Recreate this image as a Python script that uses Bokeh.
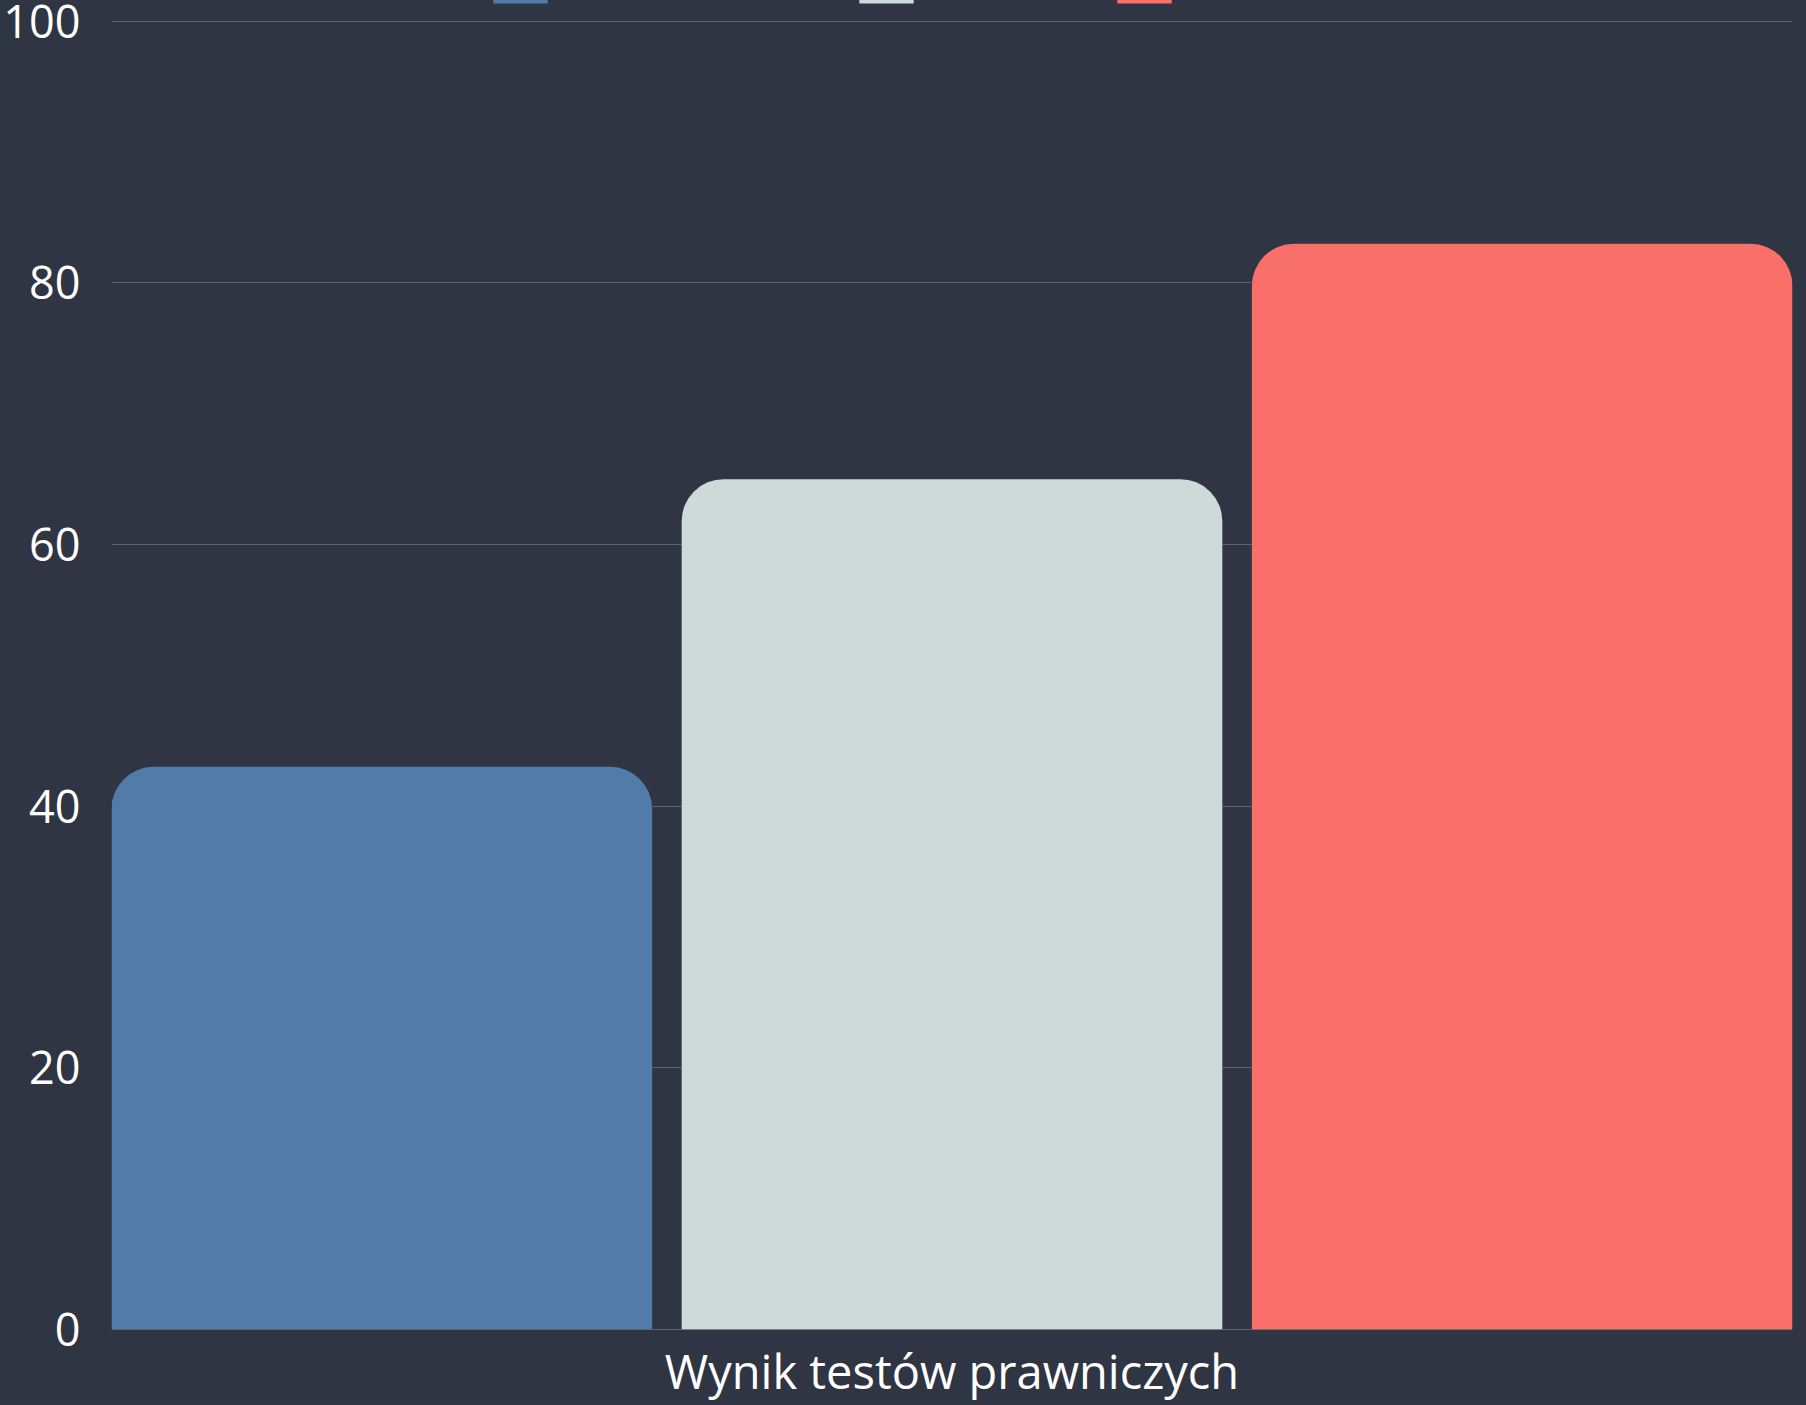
from bokeh.plotting import figure
from bokeh.models import ColumnDataSource, FactorRange, Range1d, FixedTicker, Legend, LegendItem
from bokeh.transform import dodge
from bokeh.embed import file_html
from bokeh.resources import INLINE

# ---- data ----
categories = ["Wynik testów prawniczych"]
values_a = [43]
values_b = [65]
values_c = [83]
y_ticks = [0, 20, 40, 60, 80, 100]

colors = ["#527BAA", "#CEDADA", "#F96F69"]
BG = "#2F3542"
FONT = "Open Sans"

src = ColumnDataSource(dict(cat=categories, a=values_a, b=values_b, c=values_c))

# y range reaches a little beyond 0..100 so that the frame can hold the
# legend swatches at the very top and the 0 / 100 grid lines are drawn
p = figure(
    x_range=FactorRange(factors=categories, range_padding=0),
    y_range=Range1d(-0.1, 101.6),
    width=1806, height=1405,
    output_backend="svg", toolbar_location=None,
    min_border_left=110, min_border_right=14, min_border_top=0, min_border_bottom=74,
)

# background painted by the host element (avoids seams around the frame)
p.styles = {"background-color": BG}
p.background_fill_color = None
p.border_fill_color = None
p.outline_line_color = None

bar_w = 0.3216
offs = [-0.3392, 0.0, 0.3392]
renderers = []
for col, off, c in zip(["a", "b", "c"], offs, colors):
    r = p.vbar(x=dodge("cat", off, range=p.x_range), top=col, bottom=0, width=bar_w,
               source=src, fill_color=c, line_color=None, border_radius=(42, 42, 0, 0))
    renderers.append(r)

# grid
p.xgrid.grid_line_color = None
p.ygrid.grid_line_color = "#5D626E"
p.ygrid.grid_line_width = 1
p.yaxis.ticker = FixedTicker(ticks=y_ticks)

# axes
for ax in (p.xaxis, p.yaxis):
    ax.axis_line_color = None
    ax.major_tick_line_color = None
    ax.minor_tick_line_color = None
    ax.major_label_text_color = "#FFFFFF"
    ax.major_label_text_font = FONT
p.yaxis.major_label_text_font_size = "45px"
p.xaxis.major_label_text_font_size = "47px"
p.yaxis.major_label_standoff = 25
p.xaxis.major_label_standoff = 2

# legend swatches (their labels lie above the visible page in the reference)
for r, vx in zip(renderers, [375, 741, 999]):
    lg = Legend(items=[LegendItem(label=" ", renderers=[r])], location=(vx, 1325),
                padding=0, margin=0, spacing=0, glyph_width=68, glyph_height=20,
                label_width=0, label_standoff=0, label_text_font_size="1px",
                border_line_color=None, background_fill_alpha=0)
    p.add_layout(lg, "center")

open("out.html", "w").write(file_html(p, INLINE))
